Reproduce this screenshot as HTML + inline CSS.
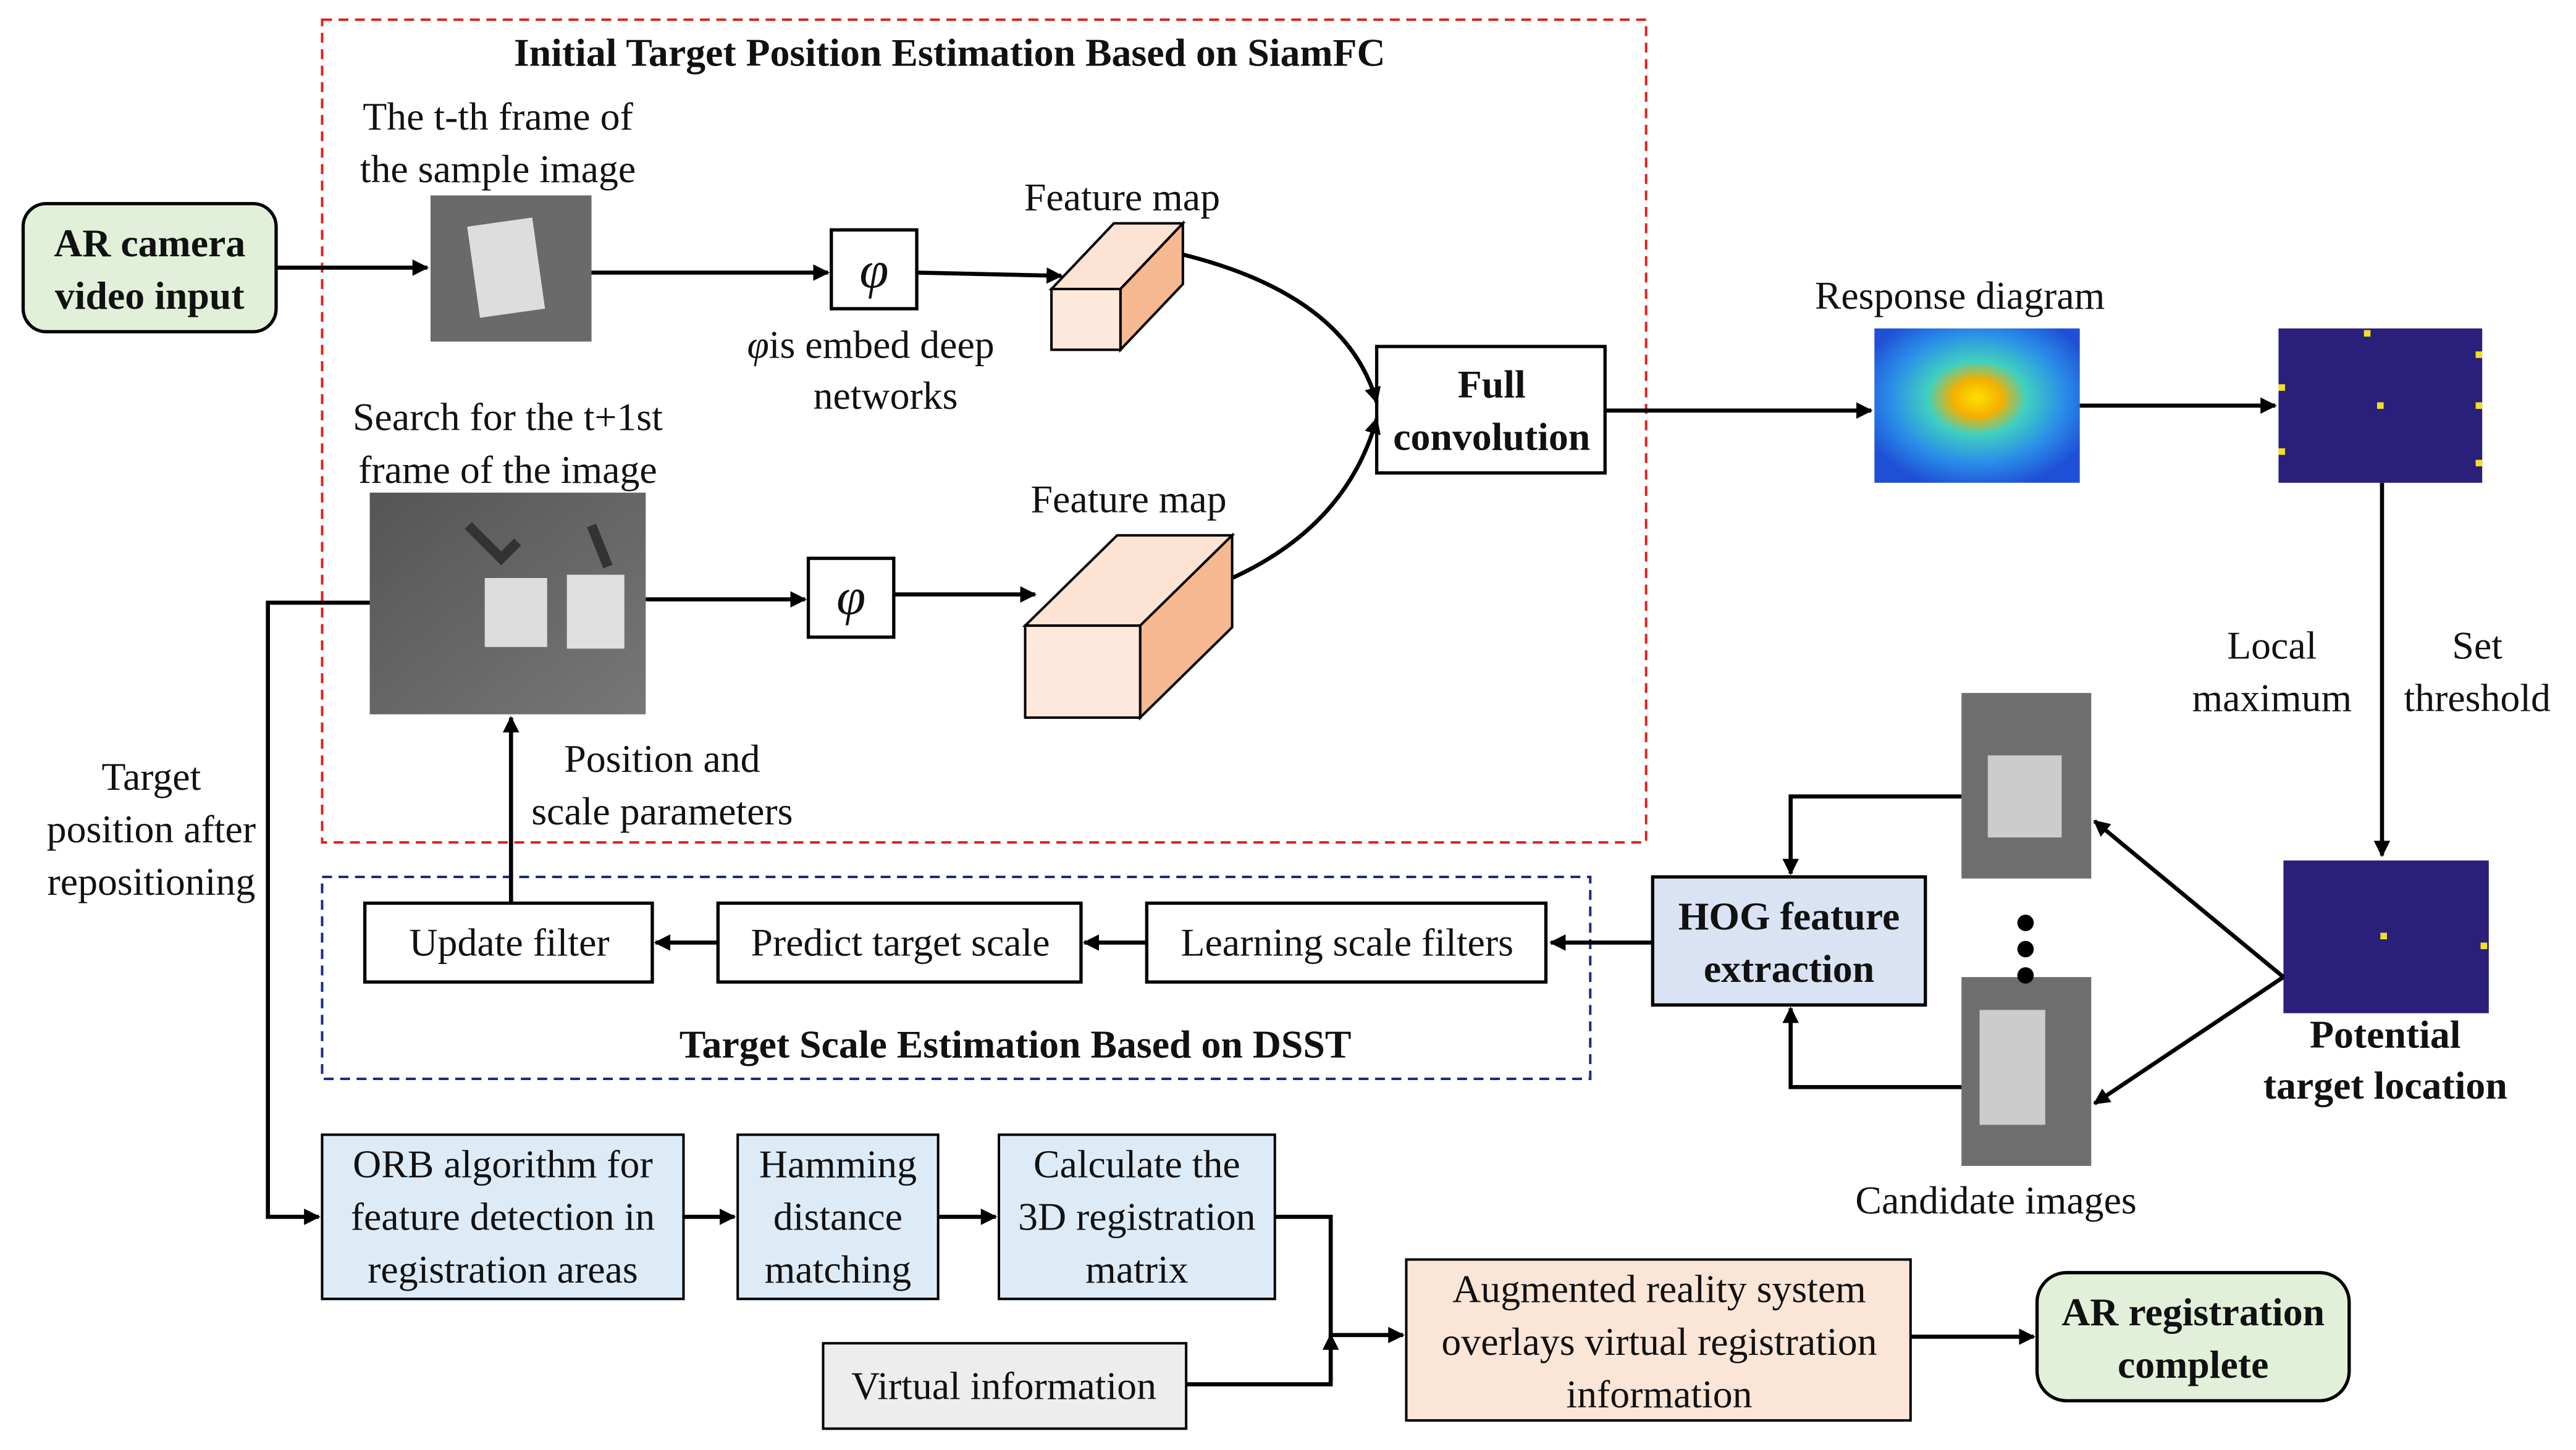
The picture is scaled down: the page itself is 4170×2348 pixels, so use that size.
<!DOCTYPE html>
<html><head><meta charset="utf-8"><style>
html,body{margin:0;padding:0;background:#fff}
svg{display:block}
text{font-family:"Liberation Serif",serif;fill:#111}
.t{font-size:24px}
.b{font-size:24px;font-weight:bold}
</style></head><body>
<svg width="4170" height="2348" viewBox="0 0 1568 883" xmlns="http://www.w3.org/2000/svg">
<defs>
<marker id="a" markerWidth="10" markerHeight="10" refX="9" refY="5" orient="auto" markerUnits="userSpaceOnUse"><path d="M0,0 L10,5 L0,10 z" fill="#000"/></marker>
<radialGradient id="heat" cx="0.5" cy="0.45" r="0.6">
<stop offset="0" stop-color="#ffe000"/><stop offset="0.2" stop-color="#f4b000"/><stop offset="0.4" stop-color="#40d0c0"/><stop offset="0.7" stop-color="#2a8ee8"/><stop offset="1" stop-color="#1f4fd6"/></radialGradient>
<linearGradient id="g1" x1="0" y1="0" x2="1" y2="1"><stop offset="0" stop-color="#555"/><stop offset="1" stop-color="#777"/></linearGradient>
</defs>
<g fill="none" stroke="#e02020" stroke-width="1.5" stroke-dasharray="6,4"><rect x="196" y="12" width="806" height="501"/></g>
<g fill="none" stroke="#1a2a8a" stroke-width="1.5" stroke-dasharray="6,4"><rect x="196" y="534" width="772" height="123"/></g>
<text class="b" x="578" y="40" text-anchor="middle">Initial Target Position Estimation Based on SiamFC</text>
<text class="b" x="618" y="644" text-anchor="middle">Target Scale Estimation Based on DSST</text>

<g stroke="#000" stroke-width="2">
<rect x="14" y="124" width="154" height="78" rx="14" fill="#e2f0d9"/>
<rect x="838" y="211" width="139" height="77" fill="#fff"/>
<rect x="506" y="140" width="52" height="48" fill="#fff"/>
<rect x="492" y="340" width="52" height="48" fill="#fff"/>
<rect x="1006" y="534" width="166" height="78" fill="#dae3f3"/>
<rect x="698" y="550" width="243" height="48" fill="#fff"/>
<rect x="437" y="550" width="221" height="48" fill="#fff"/>
<rect x="222" y="550" width="175" height="48" fill="#fff"/>
<rect x="196" y="691" width="220" height="100" fill="#ddebf7" stroke-width="1.5"/>
<rect x="449" y="691" width="122" height="100" fill="#ddebf7" stroke-width="1.5"/>
<rect x="608" y="691" width="168" height="100" fill="#ddebf7" stroke-width="1.5"/>
<rect x="501" y="818" width="221" height="52" fill="#ededed" stroke-width="1.5"/>
<rect x="856" y="767" width="307" height="98" fill="#fbe5d6" stroke-width="1.5"/>
<rect x="1240" y="775" width="190" height="78" rx="18" fill="#e2f0d9"/>
</g>

<rect x="262" y="119" width="98" height="89" fill="#6a6a6a"/>
<rect x="288" y="135" width="40" height="56" fill="#ddd" transform="rotate(-8 308 163)"/>
<rect x="225" y="300" width="168" height="135" fill="url(#g1)"/>
<rect x="295" y="352" width="38" height="42" fill="#ddd"/><rect x="345" y="350" width="35" height="45" fill="#e0e0e0"/>
<path d="M285 320 l20 20 l10 -10 M360 320 l10 25" stroke="#333" stroke-width="6" fill="none"/>
<rect x="1141" y="200" width="125" height="94" fill="url(#heat)"/>
<rect x="1387" y="200" width="124" height="94" fill="#2a1f7a"/>
<g fill="#f0e020"><rect x="1439" y="201" width="4" height="4"/><rect x="1447" y="245" width="4" height="4"/><rect x="1387" y="234" width="4" height="4"/><rect x="1507" y="214" width="4" height="4"/><rect x="1507" y="245" width="4" height="4"/><rect x="1387" y="273" width="4" height="4"/><rect x="1507" y="280" width="4" height="4"/></g>
<rect x="1390" y="524" width="125" height="93" fill="#2a1f7a"/>
<g fill="#f0e020"><rect x="1449" y="568" width="4" height="4"/><rect x="1510" y="574" width="4" height="4"/></g>
<rect x="1194" y="422" width="79" height="113" fill="#6e6e6e"/><rect x="1210" y="460" width="45" height="50" fill="#ccc"/>
<rect x="1194" y="595" width="79" height="115" fill="#6e6e6e"/><rect x="1205" y="615" width="40" height="70" fill="#ccc"/>
<g fill="#000"><circle cx="1233" cy="562" r="5"/><circle cx="1233" cy="578" r="5"/><circle cx="1233" cy="594" r="5"/></g>

<g stroke="#000" stroke-width="1.5">
<polygon points="640,176 682,176 720,136 678,136" fill="#fde3d3"/>
<polygon points="682,176 720,136 720,173 682,213" fill="#f5b890"/>
<rect x="640" y="176" width="42" height="37" fill="#fde9dc"/>
<polygon points="624,381 694,381 750,326 680,326" fill="#fde3d3"/>
<polygon points="694,381 750,326 750,382 694,437" fill="#f5b890"/>
<rect x="624" y="381" width="70" height="56" fill="#fde9dc"/>
</g>

<g stroke="#000" stroke-width="2.5" fill="none" marker-end="url(#a)">
<path d="M168 163 H260"/>
<path d="M360 166 H504"/>
<path d="M558 166 L646 168"/>
<path d="M720 155 Q820 180 838 245"/>
<path d="M750 352 Q820 320 838 255"/>
<path d="M393 365 H490"/>
<path d="M544 362 H630"/>
<path d="M977 250 H1139"/>
<path d="M1266 247 H1385"/>
<path d="M1450 294 V521"/>
<path d="M1390 595 L1275 500"/>
<path d="M1390 595 L1275 672"/>
<path d="M1194 485 H1090 V532"/>
<path d="M1194 662 H1090 V614"/>
<path d="M1006 574 H944"/>
<path d="M698 574 H660"/>
<path d="M437 574 H399"/>
<path d="M311 550 V437"/>
<path d="M225 367 H163 V741 H194"/>
<path d="M416 741 H447"/>
<path d="M571 741 H606"/>
<path d="M776 741 H810 V813 H854"/>
<path d="M722 843 H810 V813"/>
<path d="M1163 814 H1238"/>
</g>

<g class="t">
<text class="b" x="91" y="156" text-anchor="middle">AR camera</text>
<text class="b" x="91" y="188" text-anchor="middle">video input</text>
<text x="303" y="79" text-anchor="middle">The t-th frame of</text>
<text x="303" y="111" text-anchor="middle">the sample image</text>
<text x="532" y="175" text-anchor="middle" style="font-style:italic;font-size:32px">φ</text>
<text x="518" y="374" text-anchor="middle" style="font-style:italic;font-size:32px">φ</text>
<text x="530" y="218" text-anchor="middle"><tspan font-style="italic">φ</tspan>is embed deep</text>
<text x="539" y="249" text-anchor="middle">networks</text>
<text x="683" y="128" text-anchor="middle">Feature map</text>
<text x="687" y="312" text-anchor="middle">Feature map</text>
<text class="b" x="908" y="242" text-anchor="middle">Full</text>
<text class="b" x="908" y="274" text-anchor="middle">convolution</text>
<text x="309" y="262" text-anchor="middle">Search for the t+1st</text>
<text x="309" y="294" text-anchor="middle">frame of the image</text>
<text x="1193" y="188" text-anchor="middle">Response diagram</text>
<text x="1383" y="401" text-anchor="middle">Local</text>
<text x="1383" y="433" text-anchor="middle">maximum</text>
<text x="1508" y="401" text-anchor="middle">Set</text>
<text x="1508" y="433" text-anchor="middle">threshold</text>
<text class="b" x="1452" y="638" text-anchor="middle">Potential</text>
<text class="b" x="1452" y="669" text-anchor="middle">target location</text>
<text x="1215" y="739" text-anchor="middle">Candidate images</text>
<text class="b" x="1089" y="566" text-anchor="middle">HOG feature</text>
<text class="b" x="1089" y="598" text-anchor="middle">extraction</text>
<text x="820" y="582" text-anchor="middle">Learning scale filters</text>
<text x="548" y="582" text-anchor="middle">Predict target scale</text>
<text x="310" y="582" text-anchor="middle">Update filter</text>
<text x="403" y="470" text-anchor="middle">Position and</text>
<text x="403" y="502" text-anchor="middle">scale parameters</text>
<text x="92" y="481" text-anchor="middle">Target</text>
<text x="92" y="513" text-anchor="middle">position after</text>
<text x="92" y="545" text-anchor="middle">repositioning</text>
<text x="306" y="717" text-anchor="middle">ORB algorithm for</text>
<text x="306" y="749" text-anchor="middle">feature detection in</text>
<text x="306" y="781" text-anchor="middle">registration areas</text>
<text x="510" y="717" text-anchor="middle">Hamming</text>
<text x="510" y="749" text-anchor="middle">distance</text>
<text x="510" y="781" text-anchor="middle">matching</text>
<text x="692" y="717" text-anchor="middle">Calculate the</text>
<text x="692" y="749" text-anchor="middle">3D registration</text>
<text x="692" y="781" text-anchor="middle">matrix</text>
<text x="611" y="852" text-anchor="middle">Virtual information</text>
<text x="1010" y="793" text-anchor="middle">Augmented reality system</text>
<text x="1010" y="825" text-anchor="middle">overlays virtual registration</text>
<text x="1010" y="857" text-anchor="middle">information</text>
<text class="b" x="1335" y="807" text-anchor="middle">AR registration</text>
<text class="b" x="1335" y="839" text-anchor="middle">complete</text>
</g>
</svg>
</body></html>
